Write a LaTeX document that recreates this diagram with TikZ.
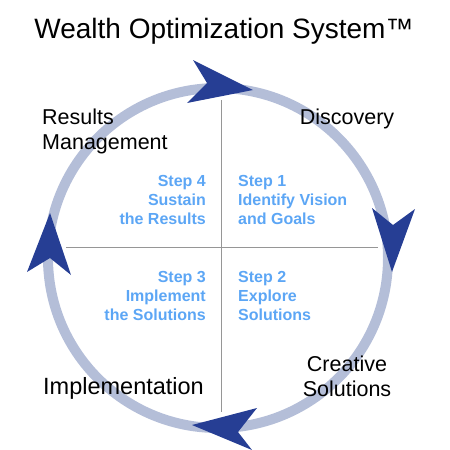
\documentclass[tikz,border=0pt]{standalone}
\usepackage{fontspec}
\setmainfont{Liberation Sans}
\usetikzlibrary{positioning}
\definecolor{ringblue}{RGB}{180,190,216}
\definecolor{arrowblue}{RGB}{38,62,148}
\definecolor{stepblue}{RGB}{92,166,245}
\definecolor{crossgray}{RGB}{150,150,150}
\tikzset{
  phase/.style={font=\fontsize{21.5}{25}\selectfont, inner sep=0pt},
  steptext/.style={font=\fontsize{16}{19}\selectfont\bfseries, text=stepblue, inner sep=0pt},
  headfill/.style={fill=arrowblue, draw=none},
}

\begin{document}
\begin{tikzpicture}[x=1pt,y=-1pt]
    \useasboundingbox (0,0) rectangle (450,450);

    % Title
    \node[font=\fontsize{28}{32}\selectfont, inner sep=0pt] (title) at (224,31) {Wealth Optimization System™};

    % Ring
    \draw[ringblue, line width=10pt] (218,258) circle (170pt);

    % Quadrant cross
    \coordinate (north) at (221,100);
    \coordinate (south) at (221,412);
    \coordinate (west) at (66,247);
    \coordinate (east) at (378,247);
    \draw[crossgray, line width=0.8pt] (north) -- (south);
    \draw[crossgray, line width=0.8pt] (west) -- (east);

    % Arrowheads on the ring
    \fill[headfill] (253,90) -- (193,60) -- (207,83) -- (187,103) -- cycle;
    \fill[headfill] (392,272) -- (415,209) -- (393,225) -- (372,208) -- cycle;
    \fill[headfill] (192,425) -- (257,408) -- (238,432) -- (252,450) -- cycle;
    \fill[headfill] (50,213) -- (27,272) -- (50,258) -- (71,275) -- cycle;

    % Phase labels
    \node[phase, align=left, anchor=west] (results) at (42,131) {Results\\Management};
    \node[phase] (discovery) at (347,119) {Discovery};
    \node[phase, align=center] (creative) at (347,376) {Creative\\Solutions};
    \node[phase, font=\fontsize{23.5}{27}\selectfont] (implementation) at (123.5,388) {Implementation};

    % Steps
    \node[steptext, align=left, anchor=west] (step1) at (238,200) {Step 1\\Identify Vision\\and Goals};
    \node[steptext, align=left, anchor=west] (step2) at (238,296) {Step 2\\Explore\\Solutions};
    \node[steptext, align=right, anchor=east] (step3) at (206,296) {Step 3\\Implement\\the Solutions};
    \node[steptext, align=right, anchor=east] (step4) at (206,200) {Step 4\\Sustain\\the Results};
\end{tikzpicture}
\end{document}
